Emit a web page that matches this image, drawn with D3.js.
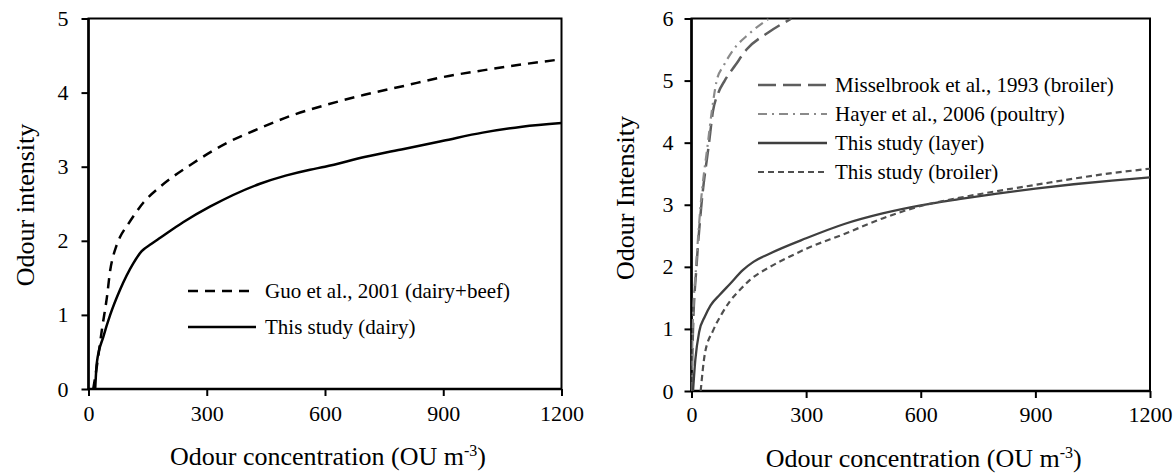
<!DOCTYPE html>
<html>
<head>
<meta charset="utf-8">
<script src="https://cdn.jsdelivr.net/npm/d3@7"></script>
<style>
  html, body { margin: 0; padding: 0; background: #fff; }
  svg { display: block; }
  text { font-family: "Liberation Serif", "Times New Roman", serif; fill: #000; }
</style>
</head>
<body>
<svg id="chart" width="1175" height="473"></svg>
<script>
// ---------- Data ----------
const xTicks = [0, 300, 600, 900, 1200];
const yTicksLeft = [0, 1, 2, 3, 4, 5];
const yTicksRight = [0, 1, 2, 3, 4, 5, 6];

// Left panel: dairy
const guoX = [12, 21, 34, 47, 55, 63, 70, 80, 100, 140, 182, 266, 351, 435, 520, 600, 700, 800, 900, 1000, 1100, 1200];
const guoY = [0, 0.3, 0.8, 1.25, 1.6, 1.8, 1.92, 2.05, 2.22, 2.52, 2.73, 3.05, 3.32, 3.52, 3.70, 3.83, 3.97, 4.09, 4.21, 4.30, 4.38, 4.45];

const dairyX = [17, 21, 38, 55, 80, 114, 135, 160, 182, 240, 308, 435, 500, 562, 600, 700, 800, 900, 1000, 1100, 1200];
const dairyY = [0, 0.35, 0.71, 1.0, 1.34, 1.7, 1.86, 1.96, 2.04, 2.25, 2.46, 2.77, 2.88, 2.96, 3.0, 3.13, 3.24, 3.35, 3.46, 3.54, 3.59];

// Right panel: poultry
const misselX = [0, 4, 13, 26, 46, 56, 70, 87, 115, 144, 200, 262];
const misselY = [0, 1, 2, 3, 4, 4.5, 4.8, 5, 5.25, 5.5, 5.77, 6];

const hayerX = [0, 3, 12, 24, 43, 53, 66, 85, 110, 150, 203];
const hayerY = [0, 1, 2, 3, 4, 4.5, 5, 5.25, 5.5, 5.75, 6];

const layerX = [4, 10, 20, 35, 50, 74, 100, 135, 162, 200, 300, 400, 500, 600, 700, 800, 900, 1000, 1100, 1200];
const layerY = [0, 0.5, 0.95, 1.2, 1.38, 1.55, 1.72, 1.95, 2.08, 2.2, 2.46, 2.69, 2.86, 2.99, 3.09, 3.18, 3.26, 3.33, 3.39, 3.44];

const broilerX = [24, 35, 57, 80, 101, 130, 153, 200, 259, 300, 400, 500, 600, 700, 800, 900, 1000, 1100, 1200];
const broilerY = [0, 0.6, 0.98, 1.25, 1.45, 1.65, 1.79, 1.98, 2.17, 2.29, 2.53, 2.78, 2.98, 3.11, 3.22, 3.32, 3.42, 3.51, 3.58];

const leftLegend = ["Guo et al., 2001 (dairy+beef)", "This study (dairy)"];
const rightLegend = ["Misselbrook et al., 1993 (broiler)", "Hayer et al., 2006 (poultry)", "This study (layer)", "This study (broiler)"];

const zip = (xs, ys) => xs.map((x, i) => [x, ys[i]]);
const FONT = '"Liberation Serif", "Times New Roman", serif';

const svg = d3.select("#chart");

function panel(cfg) {
  const x = d3.scaleLinear().domain([0, 1200]).range([cfg.x0, cfg.x1]);
  const y = d3.scaleLinear().domain([0, cfg.ymax]).range([cfg.y0, cfg.y1]);
  const g = svg.append("g");

  const clipId = "clip" + cfg.id;
  svg.append("clipPath").attr("id", clipId).append("rect")
    .attr("x", cfg.x0).attr("y", cfg.y1).attr("width", cfg.x1 - cfg.x0).attr("height", cfg.y0 - cfg.y1);

  // axes
  const xa = g.append("g").attr("transform", `translate(0,${cfg.y0})`)
    .call(d3.axisBottom(x).tickValues(xTicks).tickSize(7).tickSizeOuter(0).tickPadding(cfg.xpad).tickFormat(d3.format("d")));
  const ya = g.append("g").attr("transform", `translate(${cfg.x0},0)`)
    .call(d3.axisLeft(y).tickValues(cfg.yticks).tickSize(7).tickSizeOuter(0).tickPadding(cfg.ypad).tickFormat(d3.format("d")));
  [xa, ya].forEach(a => {
    a.attr("font-family", FONT);
    a.select(".domain").remove();
    a.selectAll(".tick line").attr("stroke", "#000").attr("stroke-width", 2);
    a.selectAll(".tick text").style("font-size", "22px").style("font-family", FONT).attr("fill", "#000");
  });

  // frame
  g.append("rect").attr("x", cfg.x0).attr("y", cfg.y1)
    .attr("width", cfg.x1 - cfg.x0).attr("height", cfg.y0 - cfg.y1)
    .attr("fill", "none").attr("stroke", "#000").attr("stroke-width", 2);
  g.append("line").attr("x1", cfg.x0).attr("x2", cfg.x0).attr("y1", cfg.y1).attr("y2", cfg.y0 + 1)
    .attr("stroke", "#000").attr("stroke-width", 2.5);
  g.append("line").attr("x1", cfg.x0 - 1).attr("x2", cfg.x1).attr("y1", cfg.y0).attr("y2", cfg.y0)
    .attr("stroke", "#000").attr("stroke-width", 2.5);

  // series
  const line = d3.line().x(d => x(d[0])).y(d => y(d[1])).curve(d3.curveMonotoneX);
  const sg = g.append("g").attr("clip-path", `url(#${clipId})`);
  cfg.series.forEach(s => {
    sg.append("path").attr("d", line(zip(s.xs, s.ys)))
      .attr("fill", "none").attr("stroke", s.color).attr("stroke-width", s.width)
      .attr("stroke-dasharray", s.dash || null);
  });

  // legend
  cfg.series.forEach((s, i) => {
    const ly = cfg.legY[i];
    g.append("line").attr("x1", cfg.legX0).attr("x2", cfg.legX1).attr("y1", ly).attr("y2", ly)
      .attr("stroke", s.color).attr("stroke-width", s.width).attr("stroke-dasharray", s.dash || null);
    g.append("text").attr("x", cfg.legText).attr("y", ly + 7)
      .style("font-family", FONT).style("font-size", "21px").text(cfg.labels[i]);
  });

  // axis titles
  const xt = g.append("text").attr("x", (cfg.x0 + cfg.x1) / 2 + 3).attr("y", cfg.xtitleY)
    .attr("text-anchor", "middle").style("font-family", FONT).style("font-size", "26px");
  xt.append("tspan").text("Odour concentration (OU m");
  xt.append("tspan").attr("dy", -9).style("font-size", "16px").text("-3");
  xt.append("tspan").attr("dy", 9).text(")");

  g.append("text").attr("transform", `translate(${cfg.ytitleX},${cfg.ytitleY}) rotate(-90)`)
    .attr("text-anchor", "middle").style("font-family", FONT).style("font-size", "26px").text(cfg.ytitle);
}

panel({
  id: "L", x0: 88.5, x1: 561.5, y0: 389, y1: 18.5, ymax: 5, yticks: yTicksLeft,
  xpad: 9, ypad: 13,
  series: [
    { xs: guoX, ys: guoY, color: "#000", width: 2.5, dash: "10,7" },
    { xs: dairyX, ys: dairyY, color: "#000", width: 2.5 }
  ],
  labels: leftLegend, legY: [291, 327], legX0: 188, legX1: 256, legText: 265,
  xtitleY: 465, ytitle: "Odour intensity", ytitleX: 34, ytitleY: 205
});

panel({
  id: "R", x0: 691.5, x1: 1150, y0: 391, y1: 18.5, ymax: 6, yticks: yTicksRight,
  xpad: 8, ypad: 11,
  series: [
    { xs: misselX, ys: misselY, color: "#5e5e5e", width: 2.5, dash: "18,7" },
    { xs: hayerX, ys: hayerY, color: "#8a8a8a", width: 2.2, dash: "9,5,2,5" },
    { xs: layerX, ys: layerY, color: "#3f3f3f", width: 2.3 },
    { xs: broilerX, ys: broilerY, color: "#4f4f4f", width: 2.2, dash: "6,4" }
  ],
  labels: rightLegend, legY: [85, 114, 143, 172], legX0: 758, legX1: 827, legText: 835,
  xtitleY: 467, ytitle: "Odour Intensity", ytitleX: 634, ytitleY: 198
});
</script>
</body>
</html>
